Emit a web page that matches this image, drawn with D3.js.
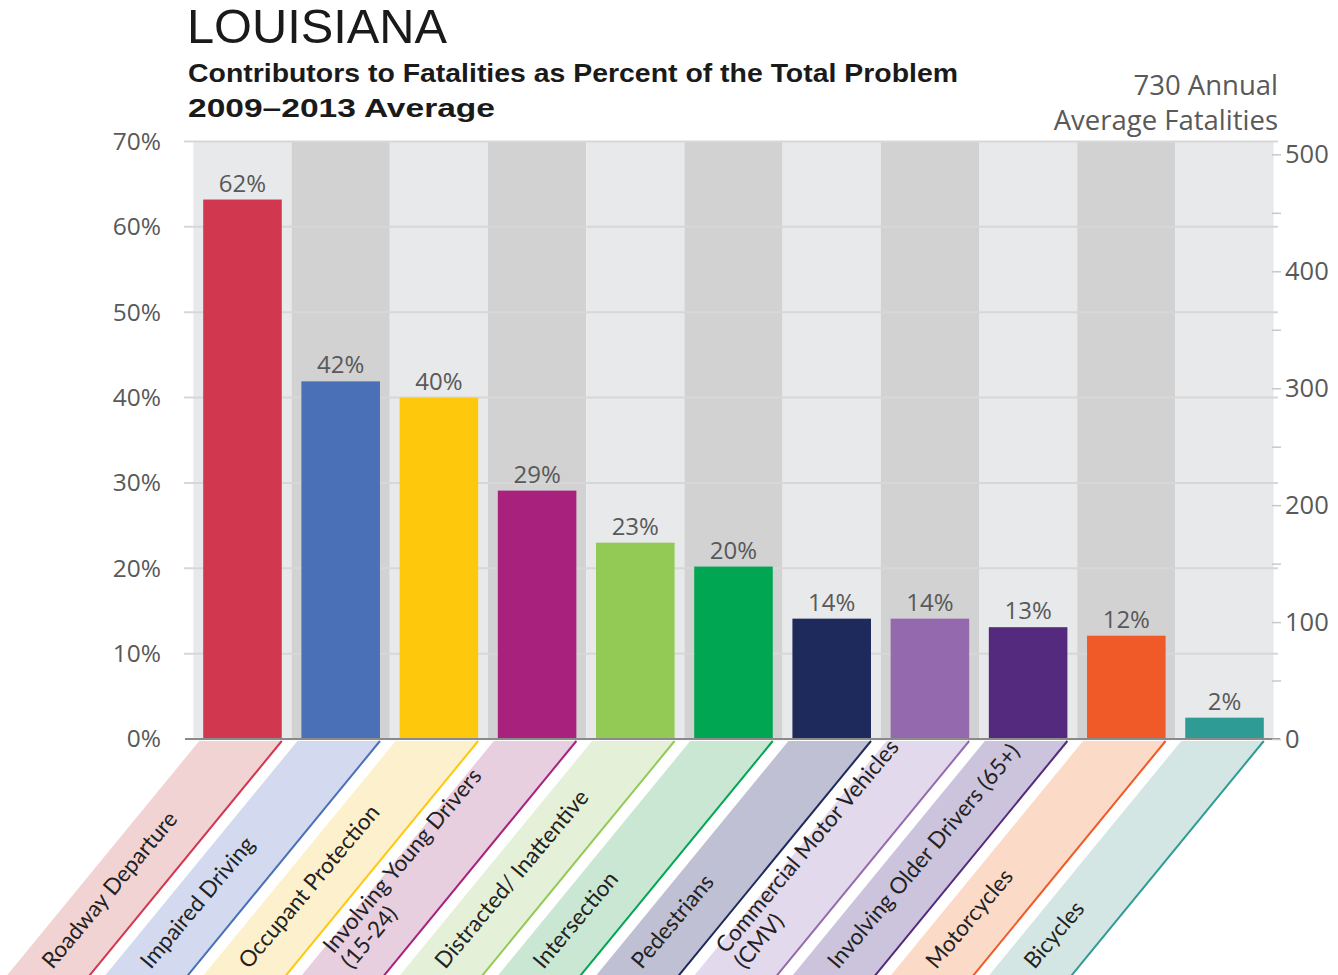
<!DOCTYPE html>
<html>
<head>
<meta charset="utf-8">
<script src="https://cdn.jsdelivr.net/npm/d3@7"></script>
<style>
  html, body { margin: 0; padding: 0; background: #fff; }
  svg { display: block; }
</style>
</head>
<body>
<svg id="chart" width="1338" height="975"></svg>
<script>
// ---- data ----
const categories = [
  "Roadway Departure", "Impaired Driving", "Occupant Protection",
  "Involving Young Drivers|(15-24)", "Distracted/ Inattentive", "Intersection",
  "Pedestrians", "Commercial Motor Vehicles|(CMV)", "Involving Older Drivers (65+)",
  "Motorcycles", "Bicycles"
];
const percents = [63.2, 41.9, 40.0, 29.1, 23.0, 20.2, 14.1, 14.1, 13.1, 12.1, 2.5];
const percentLabels = ["62%", "42%", "40%", "29%", "23%", "20%", "14%", "14%", "13%", "12%", "2%"];
const barColors = ["#d1374f", "#4a70b8", "#fec90c", "#a8217d", "#93c955", "#00a651",
                   "#1f2a5c", "#9569ae", "#542a7f", "#f05a28", "#2e9c94"];
const tintColors = ["#f2d3d4", "#d3daef", "#fdf0cc", "#e8cfe0", "#e5f0d8", "#cae7d4",
                    "#bfc0d3", "#e2d9ec", "#ccc3dc", "#fbdac8", "#d4e6e4"];
const leftTicks = [0, 10, 20, 30, 40, 50, 60, 70];
const rightTicks = [0, 50, 100, 150, 200, 250, 300, 350, 400, 450, 500];
const annualFatalities = 730;

// ---- layout ----
const svg = d3.select("#chart");
const plotL = 185, plotR = 1278, plotT = 141.5, plotB = 739;

const x = d3.scaleBand().domain(categories).range([plotL + 2, plotR + 2])
  .paddingInner(0.2).paddingOuter(0.165);
const y = d3.scaleLinear().domain([0, 70]).range([plotB, plotT]);
const yR = d3.scaleLinear().domain([0, 70 * annualFatalities / 100]).range([plotB, plotT]);
const step = x.step();
const cx = d => x(d) + x.bandwidth() / 2;

// background stripes
svg.append("g").selectAll("rect").data(categories).join("rect")
  .attr("x", d => Math.max(plotL + 3, cx(d) - step / 2))
  .attr("width", d => Math.min(plotR, cx(d) + step / 2) - Math.max(plotL + 3, cx(d) - step / 2))
  .attr("y", plotT).attr("height", plotB - plotT)
  .attr("fill", (d, i) => i % 2 === 0 ? "#e8e9eb" : "#d2d2d2");

// gridlines
svg.append("g").selectAll("line").data(leftTicks.filter(t => t > 0)).join("line")
  .attr("x1", plotL - 1).attr("x2", plotR)
  .attr("y1", d => y(d)).attr("y2", d => y(d))
  .attr("stroke", "#d7d7d7").attr("stroke-width", 2);

// bars
svg.append("g").selectAll("rect").data(categories).join("rect")
  .attr("x", d => x(d)).attr("width", x.bandwidth())
  .attr("y", (d, i) => y(percents[i]))
  .attr("height", (d, i) => plotB - y(percents[i]))
  .attr("fill", (d, i) => barColors[i]);

// value labels
svg.append("g").selectAll("text").data(categories).join("text")
  .attr("x", d => cx(d))
  .attr("y", (d, i) => y(percents[i]) - 8)
  .attr("text-anchor", "middle")
  .attr("font-family", "'Open Sans', sans-serif")
  .attr("font-size", 24)
  .attr("fill", "#595959")
  .text((d, i) => percentLabels[i]);

// slanted label bands
const slant = 0.82;
const bandTop = plotB + 2, bandBot = 1000;
const bands = svg.append("g");
categories.forEach((d, i) => {
  const x0 = x(d) - 4, x1 = x(d) + x.bandwidth();
  const s = (bandBot - bandTop) * slant;
  bands.append("polygon")
    .attr("points", [[x0, bandTop], [x1, bandTop], [x1 - s, bandBot], [x0 - s, bandBot]].map(p => p.join(",")).join(" "))
    .attr("fill", tintColors[i]);
  bands.append("line")
    .attr("x1", x1).attr("y1", bandTop).attr("x2", x1 - s).attr("y2", bandBot)
    .attr("stroke", barColors[i]).attr("stroke-width", 2);
  const lines = d.split("|");
  const g = bands.append("g")
    .attr("transform", lines.length > 1
      ? `translate(${cx(d) - 196},961) rotate(-50)`
      : `translate(${cx(d) - 190},970) rotate(-50)`);
  lines.forEach((ln, j) => {
    g.append("text")
      .attr("x", 0)
      .attr("y", lines.length > 1 ? -10 + j * 24 : 0)
      .attr("font-family", "Lato, 'Open Sans', sans-serif")
      .attr("font-size", 22.5)
      .attr("fill", "#222")
      .text(ln);
  });
});

// baseline
svg.append("line")
  .attr("x1", plotL).attr("x2", plotR + 2).attr("y1", plotB).attr("y2", plotB)
  .attr("stroke", "#8a8a8a").attr("stroke-width", 2);

// left axis
const la = svg.append("g").attr("transform", `translate(${plotL},0)`)
  .call(d3.axisLeft(y).tickValues(leftTicks).tickFormat(d => d + "%").tickSize(0).tickPadding(24));
la.select(".domain").remove();
la.selectAll("text").attr("font-family", "'Open Sans', sans-serif").attr("font-size", 24.5).attr("fill", "#595959");

// right axis
const ra = svg.append("g").attr("transform", `translate(1272,0)`)
  .call(d3.axisRight(yR).tickValues(rightTicks).tickFormat(d => d % 100 === 0 ? d : "").tickSize(9).tickPadding(4));
ra.select(".domain").remove();
ra.selectAll("line").attr("stroke", "#c8c8c8").attr("stroke-width", 1.5);
ra.selectAll("text").attr("font-family", "'Open Sans', sans-serif").attr("font-size", 25.5).attr("fill", "#595959");

// titles
svg.append("text").attr("x", 187).attr("y", 43)
  .attr("font-family", "'Liberation Sans', Arial, sans-serif")
  .attr("font-size", 48).attr("fill", "#1a1a1a")
  .attr("textLength", 260).attr("lengthAdjust", "spacingAndGlyphs")
  .text("LOUISIANA");
svg.append("text").attr("x", 188).attr("y", 82)
  .attr("font-family", "'Liberation Sans Narrow', 'Liberation Sans', sans-serif")
  .attr("font-weight", "bold").attr("font-size", 26).attr("fill", "#1a1a1a")
  .attr("textLength", 770).attr("lengthAdjust", "spacingAndGlyphs")
  .text("Contributors to Fatalities as Percent of the Total Problem");
svg.append("text").attr("x", 188).attr("y", 117)
  .attr("font-family", "'Liberation Sans Narrow', 'Liberation Sans', sans-serif")
  .attr("font-weight", "bold").attr("font-size", 26).attr("fill", "#1a1a1a")
  .attr("textLength", 307).attr("lengthAdjust", "spacingAndGlyphs")
  .text("2009\u20132013 Average");

svg.append("text").attr("x", 1278).attr("y", 95).attr("text-anchor", "end")
  .attr("font-family", "'Open Sans', sans-serif").attr("font-size", 27.5).attr("fill", "#595959")
  .text(annualFatalities + " Annual");
svg.append("text").attr("x", 1278).attr("y", 130).attr("text-anchor", "end")
  .attr("font-family", "'Open Sans', sans-serif").attr("font-size", 27.5).attr("fill", "#595959")
  .text("Average Fatalities");
</script>
</body>
</html>
